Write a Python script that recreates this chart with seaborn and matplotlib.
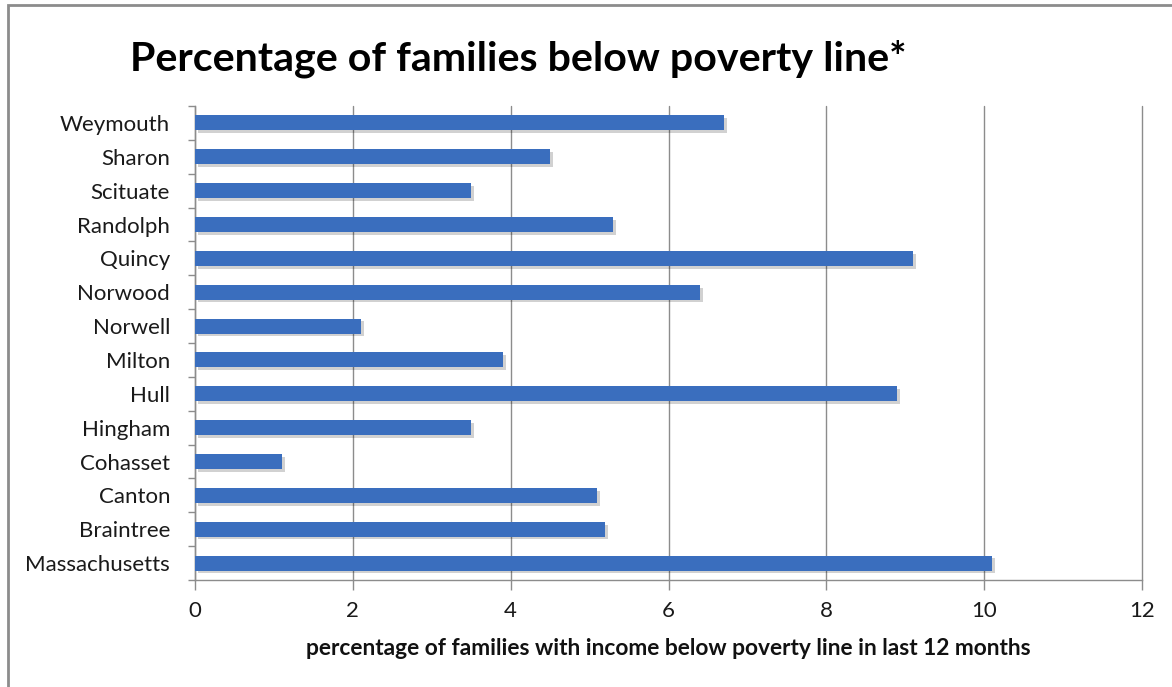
import matplotlib
matplotlib.use("Agg")
import matplotlib.pyplot as plt
import matplotlib.patheffects as pe
import seaborn as sns
import pandas as pd
import numpy as np
from matplotlib.patches import Rectangle

towns = ["Weymouth", "Sharon", "Scituate", "Randolph", "Quincy", "Norwood",
         "Norwell", "Milton", "Hull", "Hingham", "Cohasset", "Canton",
         "Braintree", "Massachusetts"]
poverty_pct = [6.7, 4.5, 3.5, 5.3, 9.1, 6.4, 2.1, 3.9, 8.9, 3.5, 1.1, 5.1, 5.2, 10.1]
x_ticks = [0, 2, 4, 6, 8, 10, 12]

title = "Percentage of families below poverty line*"
x_label = "percentage of families with income below poverty line in last 12 months"

df = pd.DataFrame({"town": towns, "pct": poverty_pct})

sns.set_theme(style="white")
plt.rcParams["font.family"] = ["Lato", "DejaVu Sans"]

fig = plt.figure(figsize=(11.72, 6.87), dpi=100)
ax = fig.add_axes([0.1664, 0.1557, 0.808, 0.69])

grey = "#8c8c8c"
bar_color = "#3A6EBE"
sns.barplot(data=df, x="pct", y="town", order=towns, orient="h",
            color=bar_color, width=0.44, saturation=1, ax=ax, zorder=3,
            linewidth=0, edgecolor="none")

# soft drop shadow under each bar
for patch in ax.patches:
    patch.set_path_effects([
        pe.SimplePatchShadow(offset=(2, -2), shadow_rgbFace="#000000", alpha=0.18),
        pe.Normal(),
    ])

ax.set_xlim(0, 12)
ax.set_ylim(len(towns) - 0.5, -0.5)
ax.set_xticks(x_ticks)
ax.set_xticklabels([str(t) for t in x_ticks])

# Vertical gridlines
ax.grid(axis="x", color=grey, linewidth=1.0, zorder=0)
ax.grid(axis="y", visible=False)
for gl in ax.get_xgridlines():
    gl.set_clip_on(False)

# Spines
for side in ["top", "right"]:
    ax.spines[side].set_visible(False)
for side in ["left", "bottom"]:
    ax.spines[side].set_visible(True)
    ax.spines[side].set_color(grey)
    ax.spines[side].set_linewidth(1.0)

# Category boundary tick marks on the y axis
bounds = np.arange(-0.5, len(towns), 1.0)
ax.hlines(bounds, -0.0075, 0, transform=ax.get_yaxis_transform(),
          colors=grey, linewidth=1.0, clip_on=False, zorder=4)

ax.tick_params(axis="y", which="both", length=0, pad=18, labelsize=16,
               labelcolor="#1a1a1a")
ax.tick_params(axis="x", which="major", length=7, width=1.0, color=grey,
               direction="out", bottom=True, pad=8, labelsize=16,
               labelcolor="#1a1a1a")

ax.set_ylabel("")
ax.set_xlabel(x_label, fontsize=16.4, fontweight="bold", color="#111111",
              labelpad=12)

fig.text(0.111, 0.915, title, fontsize=29.6, fontweight="bold", color="#000000",
         ha="left", va="center")

# Outer chart frame
fig.patches.append(Rectangle((0.0068, -0.05), 1.1, 1.043,
                             transform=fig.transFigure, fill=False,
                             edgecolor=grey, linewidth=2.0))

fig.savefig("out.png", dpi=100, facecolor="white")
